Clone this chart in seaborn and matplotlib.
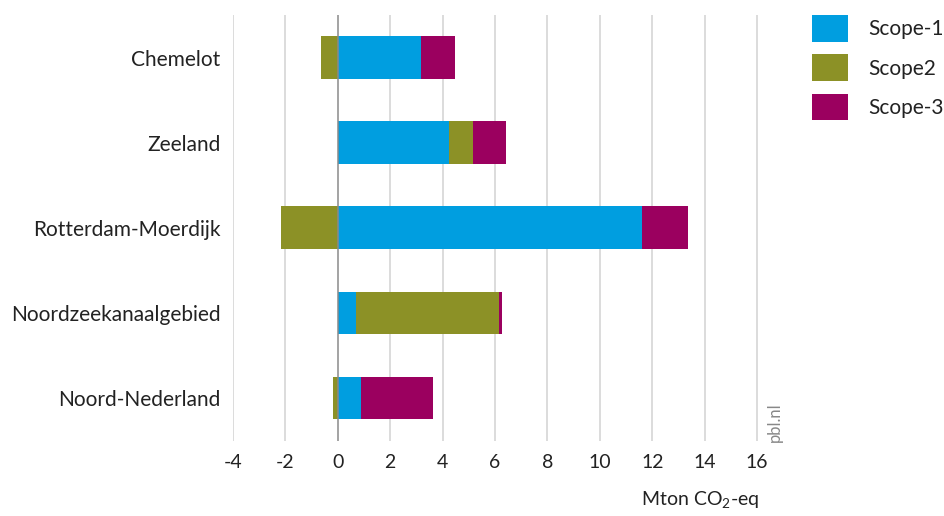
import matplotlib
matplotlib.use("Agg")
import matplotlib.pyplot as plt
from matplotlib.patches import Patch
import seaborn as sns
import pandas as pd
import numpy as np

regions = ["Chemelot", "Zeeland", "Rotterdam-Moerdijk", "Noordzeekanaalgebied", "Noord-Nederland"]
scope1 = [3.16, 4.26, 11.62, 0.70, 0.90]
scope2 = [-0.65, 0.91, -2.15, 5.46, -0.18]
scope3 = [1.33, 1.25, 1.75, 0.09, 2.74]
series_names = ["Scope-1", "Scope2", "Scope-3"]
colors = ["#009ee0", "#8c9126", "#9b005f"]
xticks = [-4, -2, 0, 2, 4, 6, 8, 10, 12, 14, 16]

sns.set_theme(style="white")
plt.rcParams["font.family"] = ["Lato", "DejaVu Sans"]
plt.rcParams["axes.unicode_minus"] = False

s1 = np.array(scope1)
s2 = np.array(scope2)
s3 = np.array(scope3)
s2pos = np.clip(s2, 0, None)
s2neg = np.clip(s2, None, 0)

df = pd.DataFrame({
    "region": regions,
    "top3": s1 + s2pos + s3,
    "top2": s1 + s2pos,
    "top1": s1,
    "neg2": s2neg,
})

fig = plt.figure(figsize=(9.45, 5.16), dpi=100)
ax = fig.add_axes([233 / 945, 1 - 440.5 / 516, (775.4 - 233) / 945, (440.5 - 15) / 516])

layers = [("top3", colors[2]), ("top2", colors[1]), ("top1", colors[0]), ("neg2", colors[1])]
for col, c in layers:
    sns.barplot(data=df, x=col, y="region", order=regions, orient="h", color=c,
                width=0.5, saturation=1, linewidth=0, ax=ax)

ax.set_xlim(-4, 16.7)
ax.set_ylim(4.5, -0.5)
ax.set_xticks(xticks)
ax.set_xticklabels([str(t) for t in xticks])
for t in xticks:
    if t != 0:
        ax.axvline(t, color="#d9d9d9", lw=1.3, zorder=0)
ax.axvline(0, color="#8a8a8a", lw=1.1, zorder=3)
for s in ax.spines.values():
    s.set_visible(False)
ax.tick_params(axis="x", length=0, pad=10, labelsize=14, colors="#222222")
ax.tick_params(axis="y", length=0, pad=9, labelsize=15, colors="#222222")
ax.set_xlabel("")
ax.set_ylabel("")

fig.text(700 / 945, 1 - 500 / 516, "Mton CO$_\\mathregular{2}$-eq", ha="center", va="center",
         fontsize=14, color="#222222")
fig.text(775 / 945, 1 - 422 / 516, "pbl.nl", rotation=90, ha="center", va="center",
         fontsize=12, color="#888888")

handles = [Patch(facecolor=c, edgecolor="none") for c in colors]
fig.legend(handles, series_names, loc="upper left", bbox_to_anchor=(812 / 945, 1 - 15 / 516),
           frameon=False, fontsize=15, handlelength=1.75, handleheight=1.58,
           handletextpad=0.95, labelspacing=0.62, borderaxespad=0, borderpad=0,
           labelcolor="#222222")

fig.savefig("out.png", dpi=100)
